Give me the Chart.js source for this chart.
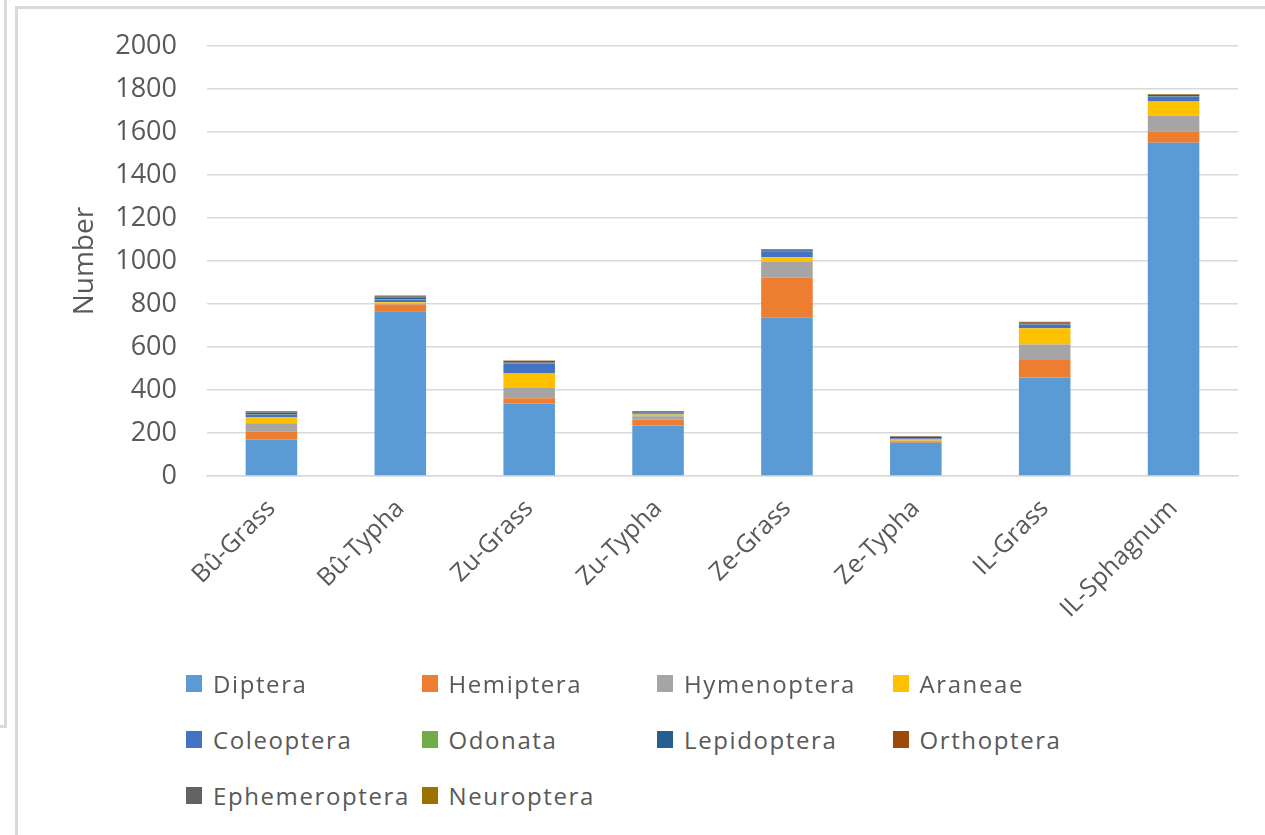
<!DOCTYPE html>
<html>
<head>
<meta charset="utf-8">
<script src="https://cdn.jsdelivr.net/npm/chart.js@4.4.1/dist/chart.umd.min.js"></script>
<style>
  html, body { margin: 0; padding: 0; background: #fff; }
  body { width: 1265px; height: 835px; position: relative; overflow: hidden; font-family: "Open Sans", sans-serif; }
  .edge { position: absolute; background: #dadada; }
  #chartBox { position: absolute; left: 0; top: 0; width: 1265px; height: 660px; }
  #legend { position: absolute; left: 186px; top: 655px; }
  .item { position: absolute; display: flex; align-items: center; white-space: nowrap;
          font-size: 24px; color: #595959; letter-spacing: 1.6px; }
  .swatch { width: 16px; height: 17px; margin-right: 11px; flex: none; }
</style>
</head>
<body>
<!-- frame edges -->
<div class="edge" style="left:4px; top:0; width:3px; height:728px;"></div>
<div class="edge" style="left:0; top:725px; width:7px; height:3px;"></div>
<div class="edge" style="left:15px; top:6px; width:3px; height:829px;"></div>
<div class="edge" style="left:15px; top:6px; width:1250px; height:3px;"></div>

<div id="chartBox"><canvas id="c" width="1265" height="660"></canvas></div>
<div id="legend"></div>

<script>
// Sites sampled
const sites = ["Bû-Grass", "Bû-Typha", "Zu-Grass", "Zu-Typha", "Ze-Grass", "Ze-Typha", "IL-Grass", "IL-Sphagnum"];

// Individuals per order at each site
const diptera       = [170, 767, 337, 235, 736, 155, 458, 1551];
const hemiptera     = [ 36,  31,  25,  28, 187,   7,  82,   51];
const hymenoptera   = [ 39,   5,  50,  15,  73,   2,  72,   74];
const araneae       = [ 29,   5,  67,   8,  22,   6,  75,   67];
const coleoptera    = [ 12,  12,  44,   2,  28,   6,  18,   22];
const odonata       = [  2,   3,   2,   5,   1,   0,   1,    1];
const lepidoptera   = [  6,   8,   3,   2,   3,   6,   3,    7];
const orthoptera    = [  2,   2,   8,   1,   4,   1,   7,    1];
const ephemeroptera = [  3,   3,   0,   5,   1,   2,   1,    1];
const neuroptera    = [  3,   4,   1,   1,   1,   1,   1,    3];

const yTicks = [0, 200, 400, 600, 800, 1000, 1200, 1400, 1600, 1800, 2000];

const series = [
  ["Diptera", diptera, "#5B9BD5"],
  ["Hemiptera", hemiptera, "#ED7D31"],
  ["Hymenoptera", hymenoptera, "#A5A5A5"],
  ["Araneae", araneae, "#FFC000"],
  ["Coleoptera", coleoptera, "#4472C4"],
  ["Odonata", odonata, "#70AD47"],
  ["Lepidoptera", lepidoptera, "#255E91"],
  ["Orthoptera", orthoptera, "#9E480E"],
  ["Ephemeroptera", ephemeroptera, "#636363"],
  ["Neuroptera", neuroptera, "#997300"]
];

const textColor = "#595959";
const gridColor = "#d9d9d9";

const chart = new Chart(document.getElementById("c"), {
  type: "bar",
  data: {
    labels: sites,
    datasets: series.map(([label, data, color]) => ({
      label, data,
      backgroundColor: color,
      borderWidth: 0,
      categoryPercentage: 1,
      barPercentage: 0.4
    }))
  },
  options: {
    responsive: false,
    animation: false,
    layout: { padding: { top: 45, right: 27, left: 0, bottom: 0 } },
    plugins: { legend: { display: false }, tooltip: { enabled: false } },
    scales: {
      x: {
        stacked: true,
        grid: { display: false },
        border: { display: true, color: gridColor, width: 1.5 },
        ticks: {
          color: textColor,
          font: { family: "Open Sans", size: 25 },
          minRotation: 45, maxRotation: 45,
          padding: 10
        },
        afterFit: (s) => { s.height = 660 - 476; }
      },
      y: {
        stacked: true,
        min: 0, max: 2000,
        afterBuildTicks: (s) => { s.ticks = yTicks.map(v => ({ value: v })); },
        grid: { color: gridColor, lineWidth: 1.5, drawTicks: false },
        border: { display: false },
        ticks: {
          color: textColor,
          font: { family: "Open Sans", size: 27 },
          padding: 30,
          callback: (v) => String(v)
        },
        title: {
          display: true,
          text: "Number",
          color: textColor,
          font: { family: "Open Sans", size: 28 },
          padding: { top: 68, bottom: 0 }
        },
        afterFit: (s) => { s.width = 207; }
      }
    }
  }
});

// Legend laid out as a 4-column grid below the plot
const legend = document.getElementById("legend");
chart.data.datasets.forEach((ds, i) => {
  const el = document.createElement("div");
  el.className = "item";
  el.style.left = (i % 4) * 235.5 + "px";
  el.style.top = Math.floor(i / 4) * 56 + "px";
  el.style.height = "56px";
  const sw = document.createElement("span");
  sw.className = "swatch";
  sw.style.background = ds.backgroundColor;
  const tx = document.createElement("span");
  tx.textContent = ds.label;
  el.appendChild(sw);
  el.appendChild(tx);
  legend.appendChild(el);
});
</script>
</body>
</html>
